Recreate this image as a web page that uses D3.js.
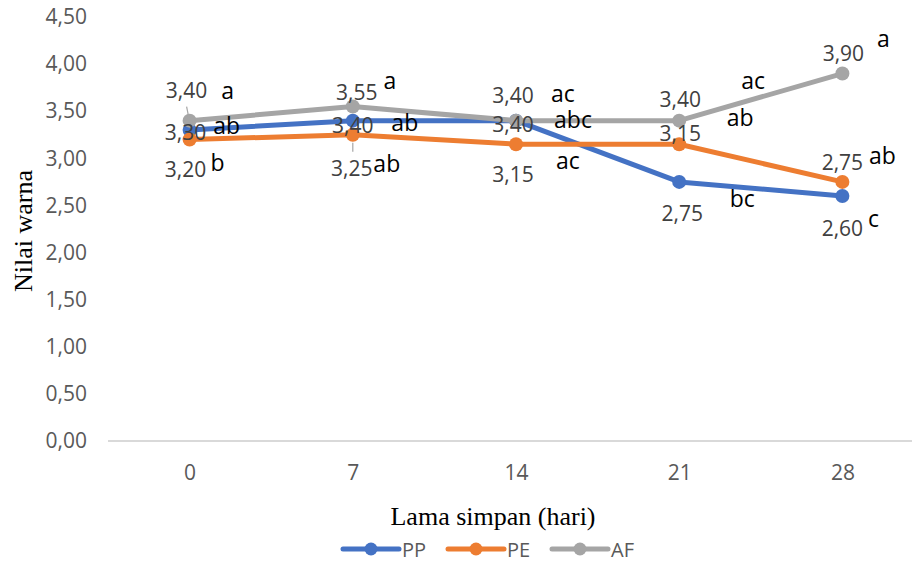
<!DOCTYPE html>
<html>
<head>
<meta charset="utf-8">
<script src="https://cdn.jsdelivr.net/npm/d3@7"></script>
<style>
  body { margin: 0; background: #fff; }
  text { font-family: "Open Sans", sans-serif; }
</style>
</head>
<body>
<div class="chart"></div>
<script>
// data
var days = [0, 7, 14, 21, 28];
var seriesNames = ["PP", "PE", "AF"];
var ppValues = [3.30, 3.40, 3.40, 2.75, 2.60];
var peValues = [3.20, 3.25, 3.15, 3.15, 2.75];
var afValues = [3.40, 3.55, 3.40, 3.40, 3.90];
var ppLetters = ["ab", "ab", "abc", "bc", "c"];
var peLetters = ["b", "ab", "ac", "ab", "ab"];
var afLetters = ["a", "a", "ac", "ac", "a"];
var yTicks = [0, 0.5, 1, 1.5, 2, 2.5, 3, 3.5, 4, 4.5];

var colors = { PP: "#4472C4", PE: "#ED7D31", AF: "#A5A5A5" };

// label placement (pixel offsets from each point), as dragged in the original
var valueOffsets = {
  PP: [[-4, 2], [0, 4], [-3, 3], [3, 31], [0, 32]],
  PE: [[-4, 30], [-1, 33], [-3, 30], [1, -11], [0, -20]],
  AF: [[-3, -31], [4, -15], [-3, -26], [1, -22], [1, -21]]
};
var letterOffsets = {
  PP: [[37, -5], [52, 1], [57, -2], [63, 16], [31, 22]],
  PE: [[28, 23], [34, 28], [52, 16], [61, -27], [40, -27]],
  AF: [[38, -31], [37, -27], [47, -28], [74, -41], [41, -36]]
};

var svgWidth = 912;
var svgHeight = 563;

var svg = d3.select(".chart")
  .append("svg")
  .attr("width", svgWidth)
  .attr("height", svgHeight);

var xScale = d3.scalePoint()
  .domain(days)
  .range([108, 924])
  .padding(0.5);

var yScale = d3.scaleLinear()
  .domain([0, 4.5])
  .range([441, 17]);

var fmt = function(v) { return d3.format(".2f")(v).replace(".", ","); };

// y axis labels (no gridlines)
var yAxis = d3.axisLeft(yScale)
  .tickValues(yTicks)
  .tickFormat(fmt)
  .tickSize(0)
  .tickPadding(0);

var yAxisG = svg.append("g")
  .attr("transform", "translate(87,0)")
  .call(yAxis);
yAxisG.select(".domain").remove();
yAxisG.selectAll("text")
  .attr("fill", "#595959")
  .style("font-size", "21px")
  .style("font-family", "'Open Sans', sans-serif");

// x axis: baseline + labels
var xAxis = d3.axisBottom(xScale).tickSize(0).tickPadding(0);
var xAxisG = svg.append("g")
  .attr("transform", "translate(0," + yScale(0) + ")")
  .call(xAxis);
xAxisG.select(".domain").remove();
xAxisG.selectAll("text")
  .attr("fill", "#595959")
  .attr("dy", "1.15em")
  .style("font-size", "21px")
  .style("font-family", "'Open Sans', sans-serif")
  .attr("y", 15);

svg.append("line")
  .attr("x1", 108)
  .attr("x2", 912)
  .attr("y1", yScale(0))
  .attr("y2", yScale(0))
  .attr("stroke", "#d9d9d9")
  .attr("stroke-width", 2);

// axis titles
svg.append("text")
  .attr("x", 493)
  .attr("y", 525)
  .attr("text-anchor", "middle")
  .style("font-family", "'Liberation Serif', 'Times New Roman', serif")
  .style("font-size", "26px")
  .attr("fill", "#000")
  .text("Lama simpan (hari)");

svg.append("text")
  .attr("transform", "translate(32,231) rotate(-90)")
  .attr("text-anchor", "middle")
  .style("font-family", "'Liberation Serif', 'Times New Roman', serif")
  .style("font-size", "26px")
  .attr("fill", "#000")
  .text("Nilai warna");

var allValues = { PP: ppValues, PE: peValues, AF: afValues };
var allLetters = { PP: ppLetters, PE: peLetters, AF: afLetters };

var line = d3.line()
  .x(d => xScale(d.day))
  .y(d => yScale(d.value));

// lines and markers, drawn in series order
seriesNames.forEach(function(name) {
  var points = days.map((d, i) => ({ day: d, value: allValues[name][i] }));
  var g = svg.append("g");
  g.append("path")
    .datum(points)
    .attr("d", line)
    .attr("fill", "none")
    .attr("stroke", colors[name])
    .attr("stroke-width", 5)
    .attr("stroke-linejoin", "round")
    .attr("stroke-linecap", "round");
  g.selectAll("circle")
    .data(points)
    .enter()
    .append("circle")
    .attr("cx", d => xScale(d.day))
    .attr("cy", d => yScale(d.value))
    .attr("r", 7)
    .attr("fill", colors[name]);
});

// leader lines for two dragged labels
svg.append("line")
  .attr("x1", xScale(0) - 3).attr("y1", yScale(3.40) - 14)
  .attr("x2", xScale(0) - 1).attr("y2", yScale(3.40) - 4)
  .attr("stroke", "#a6a6a6").attr("stroke-width", 1.2);
svg.append("line")
  .attr("x1", xScale(7)).attr("y1", yScale(3.25) + 8)
  .attr("x2", xScale(7)).attr("y2", yScale(3.25) + 17)
  .attr("stroke", "#a6a6a6").attr("stroke-width", 1.2);

// value labels and significance letters
seriesNames.forEach(function(name) {
  var points = days.map((d, i) => ({ day: d, value: allValues[name][i], i: i }));
  svg.append("g").selectAll("text")
    .data(points)
    .enter()
    .append("text")
    .attr("x", d => xScale(d.day) + valueOffsets[name][d.i][0])
    .attr("y", d => yScale(d.value) + valueOffsets[name][d.i][1])
    .attr("text-anchor", "middle")
    .attr("dominant-baseline", "central")
    .attr("fill", "#404040")
    .style("font-size", "21px")
    .text(d => fmt(d.value));

  svg.append("g").selectAll("text")
    .data(points)
    .enter()
    .append("text")
    .attr("x", d => xScale(d.day) + letterOffsets[name][d.i][0])
    .attr("y", d => yScale(d.value) + letterOffsets[name][d.i][1])
    .attr("text-anchor", "middle")
    .attr("dominant-baseline", "central")
    .attr("fill", "#000")
    .style("font-size", "23px")
    .text(d => allLetters[name][d.i]);
});

// legend
var legendX = [343, 448, 552];
var legend = svg.append("g");
seriesNames.forEach(function(name, i) {
  var lg = legend.append("g").attr("transform", "translate(" + legendX[i] + ",549)");
  lg.append("line")
    .attr("x1", 0).attr("x2", 56)
    .attr("y1", 0).attr("y2", 0)
    .attr("stroke", colors[name])
    .attr("stroke-width", 5)
    .attr("stroke-linecap", "round");
  lg.append("circle")
    .attr("cx", 28).attr("cy", 0).attr("r", 6.5)
    .attr("fill", colors[name]);
  lg.append("text")
    .attr("x", 59).attr("y", 0)
    .attr("dominant-baseline", "central")
    .attr("fill", "#595959")
    .style("font-size", "20px")
    .text(name);
});
</script>
</body>
</html>
